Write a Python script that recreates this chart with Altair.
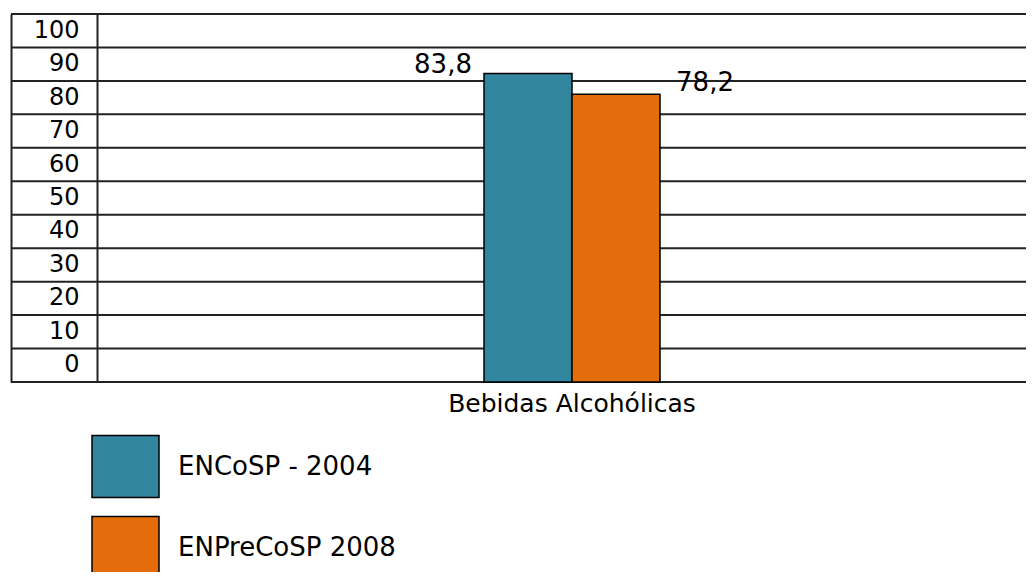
import altair as alt
import pandas as pd

category = ["Bebidas Alcohólicas"]
series = ["ENCoSP - 2004", "ENPreCoSP 2008"]
values = [83.8, 78.2]
value_labels = ["83,8", "78,2"]
colors = ["#31859C", "#E46C0A"]
tick_labels = ["100", "90", "80", "70", "60", "50", "40", "30", "20", "10", "0"]
grid_edges = list(range(12))

bars_df = pd.DataFrame({"cat": category * 2, "series": series,
                        "value": values, "label": value_labels})
ticks_df = pd.DataFrame({"tick": tick_labels})
edges_df = pd.DataFrame({"edge": grid_edges})

FONT = "DejaVu Sans"
LINE = "#222222"

grid = alt.Chart(edges_df).mark_rule(color=LINE, strokeWidth=2).encode(
    y=alt.Y("edge:Q", scale=alt.Scale(domain=[0, 11], nice=False, zero=True),
            axis=alt.Axis(orient="left", domain=True, domainColor=LINE, domainWidth=2,
                          labels=False, ticks=False, grid=False, title=None)),
    x=alt.value(0), x2=alt.value("width"))

ticks = alt.Chart(ticks_df).mark_point(opacity=0).encode(
    y=alt.Y("tick:N", sort=tick_labels,
            scale=alt.Scale(type="band", paddingInner=0, paddingOuter=0),
            axis=alt.Axis(orient="left", offset=-86, domain=True, domainColor=LINE,
                          domainWidth=2, ticks=False, labelPadding=18, labelFontSize=24,
                          labelFont=FONT, labelColor="#000", title=None, grid=False,
                          labelAlign="right", labelBaseline="middle")))

x_enc = alt.X("cat:N", scale=alt.Scale(range=[473, 649], paddingInner=0, paddingOuter=0),
              axis=alt.Axis(domain=False, ticks=False, labelFontSize=25, labelFont=FONT,
                            labelColor="#000", labelPadding=9, title=None, labelAngle=0,
                            grid=False, labelLimit=0))
xo = alt.XOffset("series:N", sort=series, scale=alt.Scale(paddingInner=0, paddingOuter=0))
y_val = alt.Y("value:Q", scale=alt.Scale(domain=[0, 100], nice=False), axis=None)

bars = alt.Chart(bars_df).mark_bar(stroke="#000", strokeWidth=1.5, opacity=1).encode(
    x=x_enc, xOffset=xo, y=y_val,
    color=alt.Color("series:N", sort=series,
                    scale=alt.Scale(domain=series, range=colors),
                    legend=alt.Legend(title=None, orient="none", legendX=80, legendY=418,
                                      symbolType="M-1,-0.925L1,-0.925L1,0.925L-1,0.925Z",
                                      symbolSize=4489, symbolStrokeColor="#000",
                                      symbolStrokeWidth=1.5, symbolOpacity=1,
                                      labelFontSize=26, labelFont=FONT, labelColor="#000",
                                      labelOffset=18, labelBaseline="middle", rowPadding=12,
                                      labelLimit=0, padding=0, direction="vertical")))

t1 = alt.Chart(bars_df).transform_filter(alt.datum.series == series[0]).mark_text(
    align="center", baseline="alphabetic", dx=-85, dy=-1, fontSize=26, font=FONT,
    color="#000").encode(x=x_enc, xOffset=xo, y=y_val, text="label:N")
t2 = alt.Chart(bars_df).transform_filter(alt.datum.series == series[1]).mark_text(
    align="center", baseline="alphabetic", dx=89, dy=-3, fontSize=26, font=FONT,
    color="#000").encode(x=x_enc, xOffset=xo, y=y_val, text="label:N")

chart = alt.layer(grid, ticks, bars, t1, t2).resolve_scale(y="independent").properties(
    width=1015, height=368,
    autosize=alt.AutoSizeParams(type="none"),
    padding={"left": 3, "top": 6, "right": 0, "bottom": 190},
).configure(font=FONT).configure_view(stroke=None)

chart.save("out.html", embed_options={"renderer": "svg", "actions": False})
